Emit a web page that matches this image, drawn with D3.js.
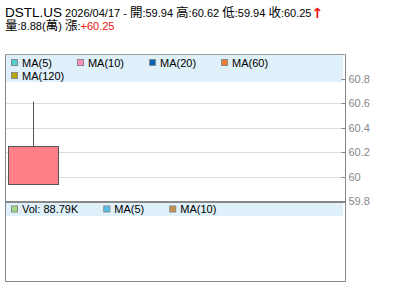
<!DOCTYPE html>
<html><head><meta charset="utf-8">
<script src="https://cdn.jsdelivr.net/npm/d3@7"></script>
<style>
html,body{margin:0;padding:0;background:#fff;}
svg{display:block;}
text{font-family:"Liberation Sans",Arial,"Noto Sans CJK TC",sans-serif;}
</style></head>
<body>
<script>
// ---- data ----
const symbol = "DSTL.US";
const dates = ["2026/04/17"];
const opens = [59.94];
const highs = [60.62];
const lows = [59.94];
const closes = [60.25];
const volumeWan = [8.88];
const changes = ["+60.25"];
const volumeLabel = ["Vol: 88.79K"];
const yTicks = [59.8, 60, 60.2, 60.4, 60.6, 60.8];
const maLabels = ["MA(5)", "MA(10)", "MA(20)", "MA(60)", "MA(120)"];
const maColors = ["#4fd1d1", "#ff8fb8", "#0066bb", "#f08030", "#b8a800"];
const volLegendLabels = [volumeLabel[0], "MA(5)", "MA(10)"];
const volLegendColors = ["#a0e080", "#50c0f0", "#c89048"];

const W = 400, H = 301;
const L = 5.5, R = 345.5, mainTop = 54.5, mainBot = 202, volBot = 281.5;

const svg = d3.select("body").append("svg").attr("width", W).attr("height", H);

// ---- header ----
const f = d3.format(".2f");
const h1 = svg.append("text").attr("x", 5).attr("y", 17).attr("font-size", 11).attr("fill", "#000");
h1.append("tspan").attr("font-size", 13.5).text(symbol);
h1.append("tspan").text(" " + dates[0] + " - ");
const parts1 = [["開", opens[0]], ["高", highs[0]], ["低", lows[0]], ["收", closes[0]]];
parts1.forEach((p, i) => {
  h1.append("tspan").attr("font-size", 12.5).text(p[0]);
  h1.append("tspan").text(":" + f(p[1]) + (i < 3 ? " " : ""));
});
h1.append("tspan").attr("fill", "#ee1111").attr("font-weight", "bold").attr("font-size", 14)
  .attr("font-family", "DejaVu Sans, sans-serif").attr("dy", 1).text("↑");

const h2 = svg.append("text").attr("x", 5).attr("y", 30).attr("font-size", 11).attr("fill", "#000");
h2.append("tspan").attr("font-size", 12.5).text("量");
h2.append("tspan").text(":" + f(volumeWan[0]) + "(");
h2.append("tspan").attr("font-size", 12.5).text("萬");
h2.append("tspan").text(") ");
h2.append("tspan").attr("font-size", 12.5).text("漲");
h2.append("tspan").text(":");
h2.append("tspan").attr("fill", "#ee1111").text(changes[0]);

// ---- scales ----
const y = d3.scaleLinear().domain([59.8, 60.8]).range([201.7, 79.5]);
const x = d3.scaleBand().domain(dates).range([8, 59]).padding(0);
const py = v => Math.floor(y(v)) + 0.5;

// gridlines
svg.append("g").selectAll("line").data(yTicks).join("line")
  .attr("x1", L).attr("x2", R).attr("y1", py).attr("y2", py)
  .attr("stroke", "#dcdcdc").attr("stroke-width", 1);

// main legend background
svg.append("rect").attr("x", 6).attr("y", 55).attr("width", 337).attr("height", 27).attr("fill", "#dff0fa");

// legend flow helper
function legend(labels, colors, x0, y0, maxX, rowH) {
  const g = svg.append("g");
  let cx = x0, cy = y0;
  labels.forEach((lab, i) => {
    const t = g.append("text").attr("font-size", 11).attr("fill", "#000").text(lab)
      .attr("dy", "0.35em");
    const tw = t.node().getComputedTextLength();
    if (cx + 11 + tw + 10 > maxX && i > 0) { cx = x0; cy += rowH; }
    g.append("rect").attr("x", cx + 0.5).attr("y", cy - 3.5).attr("width", 6).attr("height", 6)
      .attr("fill", colors[i]).attr("stroke", "#888");
    t.attr("x", cx + 11).attr("y", cy);
    cx = cx + 11 + tw + 25;
  });
}
legend(maLabels, maColors, 11, 63, 343, 13);

// candles
const cg = svg.append("g");
dates.forEach((d, i) => {
  const xc = Math.floor(x(d) + x.bandwidth() / 2) + 0.5;
  const top = Math.max(opens[i], closes[i]), bot = Math.min(opens[i], closes[i]);
  cg.append("line").attr("x1", xc).attr("x2", xc).attr("y1", py(highs[i])).attr("y2", py(top))
    .attr("stroke", "#555").attr("stroke-width", 1);
  cg.append("line").attr("x1", xc).attr("x2", xc).attr("y1", py(bot)).attr("y2", py(lows[i]))
    .attr("stroke", "#555").attr("stroke-width", 1);
  cg.append("rect").attr("x", x(d) + 0.5).attr("y", py(top))
    .attr("width", x.bandwidth() - 1).attr("height", py(bot) - py(top))
    .attr("fill", closes[i] >= opens[i] ? "#ff8088" : "#60c060").attr("stroke", "#555");
});

// panel borders
svg.append("line").attr("x1", L).attr("x2", R).attr("y1", mainTop).attr("y2", mainTop).attr("stroke", "#999");
svg.append("line").attr("x1", L).attr("x2", L).attr("y1", mainTop).attr("y2", volBot).attr("stroke", "#888");
svg.append("line").attr("x1", R).attr("x2", R).attr("y1", mainTop).attr("y2", volBot).attr("stroke", "#888");
svg.append("line").attr("x1", L).attr("x2", R).attr("y1", mainBot).attr("y2", mainBot).attr("stroke", "#888").attr("stroke-width", 2);
svg.append("line").attr("x1", L).attr("x2", R).attr("y1", volBot).attr("y2", volBot).attr("stroke", "#888");

// volume legend
svg.append("rect").attr("x", 6).attr("y", 203).attr("width", 337).attr("height", 13).attr("fill", "#dff0fa");
legend(volLegendLabels, volLegendColors, 11, 209.5, 343, 13);

// y axis
const axis = d3.axisRight(y).tickValues(yTicks).tickSizeInner(-4).tickSizeOuter(0).tickPadding(3)
  .tickFormat(d => String(+d.toFixed(1)));
const ag = svg.append("g").attr("transform", `translate(${R},0)`).call(axis);
ag.select(".domain").remove();
ag.selectAll(".tick").attr("transform", d => `translate(0,${py(d)})`);
ag.selectAll(".tick line").attr("stroke", "#888");
ag.selectAll(".tick text").attr("fill", "#888").attr("font-size", 11)
  .attr("font-family", "Liberation Sans, Arial, sans-serif");
</script>
</body></html>
